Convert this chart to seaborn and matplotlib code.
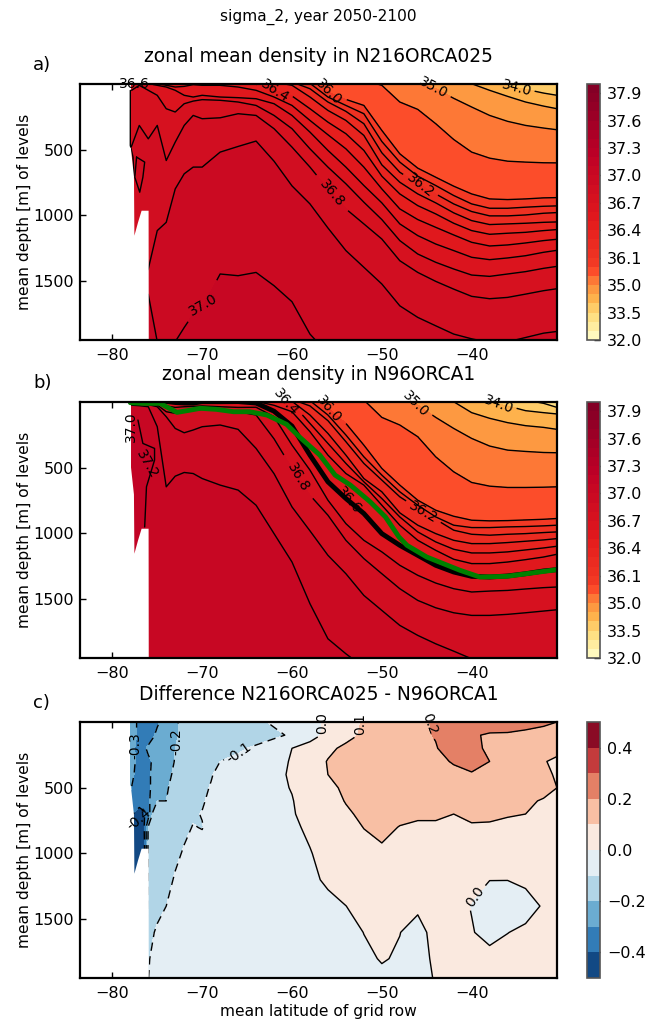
import numpy as np
import matplotlib
matplotlib.use("Agg")
import matplotlib.pyplot as plt
from matplotlib.colors import Normalize
import seaborn as sns

sns.set_style("ticks")
plt.rcParams["font.family"] = ["DejaVu Sans"]
plt.rcParams.update({"text.color": "k", "axes.labelcolor": "k", "axes.edgecolor": "k",
                     "xtick.color": "k", "ytick.color": "k"})

# colour levels of the density panels
levels_rho = [32, 32.5, 33, 33.5, 34, 34.5, 35, 35.5, 36, 36.1, 36.2, 36.3, 36.4, 36.5, 36.6,
              36.7, 36.8, 36.9, 37.0, 37.1, 37.2, 37.3, 37.4, 37.5, 37.6, 37.7, 37.8, 37.9, 38.0]
labelled_rho = [34.0, 35.0, 36.0, 36.2, 36.4, 36.6, 36.8, 37.0]
ticks_rho = [32.0, 33.5, 35.0, 36.1, 36.4, 36.7, 37.0, 37.3, 37.6, 37.9]
ticklabels_rho = ["32.0", "33.5", "35.0", "36.1", "36.4", "36.7", "37.0", "37.3", "37.6", "37.9"]
levels_diff = [-0.5, -0.4, -0.3, -0.2, -0.1, 0.0, 0.1, 0.2, 0.3, 0.4, 0.5]
ticks_diff = [-0.4, -0.2, 0.0, 0.2, 0.4]
ticklabels_diff = ["\u22120.4", "\u22120.2", "0.0", "0.2", "0.4"]

# latitude columns of the isopycnal tables
lat_rho = [-77.9, -77, -76, -75, -74, -73, -72, -71, -70, -68, -66, -64, -62, -60, -58, -56,
           -54, -52, -50, -48, -46, -44, -42, -40, -38, -36, -34, -32, -30.5]

# density of each table row
rho_rows = [33.0, 33.5, 34.0, 34.5, 35.0, 35.5, 36.0, 36.1, 36.2, 36.3, 36.4, 36.5, 36.6,
            36.7, 36.8, 36.9, 37.0, 37.09]

# panel a: depth [m] of each isopycnal (negative = outcropped above the surface)
a_330 = [-900] * 29
a_335 = [-180] * 29
a_340 = [-160] * 24 + [-30, 15, 40, 69, 86]
a_345 = [-140] * 22 + [-60, -2, 48, 94, 137, 168, 188]
a_350 = [-120] * 20 + [-8, 36, 109, 175, 239, 284, 315, 335, 348]
a_355 = [-100] * 17 + [-30, 10, 137, 193, 302, 422, 518, 564, 587, 594, 599, 600]
a_360 = [-80] * 13 + [-60, -25, 61, 117, 163, 353, 531, 640, 709, 777, 836, 874, 879, 874, 866, 864]
a_361 = [-60] * 13 + [-40, -5, 99, 163, 226, 437, 594, 701, 772, 848, 912, 945, 945, 937, 930, 927]
a_362 = [-45] * 13 + [-15, 36, 137, 208, 302, 523, 671, 759, 836, 912, 970, 1003, 1003, 996, 983, 978]
a_363 = [-30] * 12 + [-15, 10, 99, 201, 277, 391, 615, 747, 836, 904, 980, 1039, 1069, 1064, 1059, 1052, 1049]
a_364 = [-20] * 11 + [2, 48, 91, 188, 290, 378, 505, 701, 836, 925, 988, 1059, 1115, 1143, 1135, 1128, 1115, 1107]
a_365 = [-10, -10, -10, -5, 10, 23, 18, 5, 10, 10, 23, 48, 99, 163, 277, 386, 493, 632, 798, 950,
         1031, 1090, 1148, 1204, 1232, 1224, 1209, 1191, 1181]
a_366 = [5, -5, -3, 10, 23, 48, 86, 99, 86, 99, 104, 112, 150, 239, 366, 505, 632, 772, 904, 1064,
         1153, 1217, 1267, 1318, 1336, 1323, 1306, 1280, 1265]
a_367 = [50, 10, 48, 86, 188, 213, 150, 130, 119, 124, 137, 163, 239, 340, 493, 632, 759, 899, 1031,
         1191, 1293, 1356, 1407, 1453, 1463, 1445, 1427, 1402, 1387]
a_368 = [480, 315, 417, 315, 582, 442, 315, 239, 264, 257, 226, 239, 340, 480, 632, 798, 950, 1064,
         1179, 1344, 1433, 1501, 1560, 1615, 1633, 1623, 1598, 1572, 1557]
a_369 = [1500, 1500, 1407, 1115, 1052, 798, 683, 632, 632, 518, 475, 434, 587, 775, 912, 1095, 1267,
         1394, 1521, 1687, 1775, 1839, 1902, 1938, 1966, 1961, 1928, 1895, 1882]
a_370 = [1600, 1600, 1600, 1960, 1980, 1960, 1852, 1750, 1700, 1445, 1458, 1433, 1534, 1656, 1902,
         2050, 2080, 2100, 2100, 2100, 2100, 2100, 2100, 2100, 2100, 2100, 2100, 2100, 2100]
a_373 = [2500] * 29

# panel b: same table for the second run
b_330 = [-900] * 29
b_335 = [-120] * 25 + [-60, -15, 10, 41]
b_340 = [-100] * 23 + [-20, 5, 30, 66, 81, 91]
b_345 = [-90] * 21 + [-40, -2, 81, 124, 157, 180, 193, 208]
b_350 = [-80] * 19 + [-20, 23, 117, 201, 277, 335, 366, 376, 384, 386]
b_355 = [-70] * 17 + [-15, 117, 175, 264, 417, 531, 612, 640, 650, 650, 648, 645]
b_360 = [-60] * 13 + [-55, -20, 48, 163, 328, 505, 632, 747, 823, 869, 899, 904, 902, 897, 892, 886]
b_361 = [-50] * 13 + [-40, -10, 99, 251, 417, 556, 683, 785, 874, 937, 955, 955, 950, 947, 942, 937]
b_362 = [-40] * 13 + [-20, 30, 142, 302, 467, 594, 721, 810, 892, 975, 1006, 1013, 1006, 1001, 993, 988]
b_363 = [-30] * 13 + [-5, 99, 239, 404, 582, 683, 843, 937, 1001, 1052, 1077, 1077, 1069, 1059, 1049, 1039]
b_364 = [-20] * 12 + [-8, 10, 163, 315, 467, 607, 734, 874, 988, 1064, 1120, 1148, 1148, 1140, 1125, 1110, 1097]
b_365 = [-10] * 11 + [-5, 25, 74, 226, 404, 544, 632, 785, 937, 1052, 1128, 1196, 1229, 1229, 1217, 1199, 1179, 1158]
b_366 = [-5, -5, -5, -5, -4, 4, 8, 8, -2, -2, -3, 8, 70, 183, 404, 607, 734, 848, 1001, 1090, 1166,
         1242, 1293, 1326, 1331, 1323, 1306, 1285, 1275]
b_367 = [5, 6, 8, 10, 30, 41, 36, 33, 30, 36, 41, 40, 112, 328, 518, 747, 925, 1052, 1140, 1242, 1318,
         1377, 1420, 1445, 1438, 1433, 1422, 1412, 1407]
b_368 = [8, 10, 13, 23, 74, 86, 74, 65, 56, 61, 74, 99, 280, 505, 709, 861, 1052, 1191, 1306, 1420,
         1509, 1565, 1603, 1623, 1623, 1615, 1603, 1590, 1580]
b_369 = [10, 12, 20, 36, 112, 201, 234, 213, 188, 175, 208, 353, 545, 798, 980, 1166, 1306, 1471, 1585,
         1699, 1775, 1839, 1895, 1953, 2017, 2030, 2030, 2030, 2030]
b_370 = [24, 28, 36, 188, 645, 564, 536, 544, 582, 632, 670, 785, 1001, 1217, 1534, 1801, 1915, 2017,
         2060, 2100, 2100, 2100, 2100, 2100, 2100, 2100, 2100, 2100, 2100]
b_373 = [2500] * 29

# green isopycnal drawn over panel b
green_lat = [-78, -76.6, -74.7, -72.8, -71.7, -70.2, -68.4, -66.5, -64.7, -62.8, -60.6, -59.1, -56.9,
             -55.2, -53.5, -51.3, -49.6, -48.1, -47.2, -45, -41.3, -39.1, -36.1, -30.5]
green_depth = [5, 10, 10, 79, 66, 48, 56, 74, 74, 99, 170, 270, 404, 556, 632, 759, 874, 1026, 1090,
               1179, 1280, 1331, 1326, 1275]

# shelf features that a table with one depth per latitude cannot hold
blob_a_lat = [-77.3, -76.4, -76.6, -76.95, -77.5, -77.3]
blob_a_depth = [556, 594, 709, 823, 709, 556]
edge_a_lat = [-78, -78, -77.7, -77.6]
edge_a_depth = [48, 467, 556, 696]
lens_b_lat = [-77.15, -76.6, -75.3, -75.3, -76.2, -76.4, -76.4, -77.5, -77.8, -77.89]
lens_b_depth = [137, 315, 353, 442, 645, 950, 1020, 1153, 700, 239]

# bathymetry: white below this depth
land_lat = [-78.2, -78, -77.65, -77.6, -77.2, -76.8, -76.2, -76.02, -76.0, -30]
land_depth = [480, 480, 700, 1150, 1050, 960, 960, 960, 2100, 2100]

# panel c: difference on a regular grid
lat_diff = [-78, -77.5, -77, -76.5, -76, -75.5, -75, -74, -73, -72, -71, -70, -69, -68, -66, -64, -62,
            -60, -58, -56, -54, -52, -50, -48, -46, -44, -42, -40, -38, -36, -34, -32, -30.5]
depth_diff = [0, 100, 200, 300, 400, 500, 600, 700, 800, 1000, 1200, 1400, 1600, 1800, 1950]
diff_0 = [-.25, -.28, -.33, -.33, -.33, -.32, -.31, -.27, -.21, -.18, -.17, -.16, -.15, -.14, -.13, -.115, -.09,
          -.06, -.02, .01, .05, .11, .13, .15, .18, .21, .24, .25, .25, .24, .23, .21, .2]
diff_100 = [-.25, -.28, -.33, -.34, -.33, -.31, -.285, -.24, -.205, -.19, -.18, -.17, -.16, -.15, -.14, -.13, -.115,
            -.09, -.03, .02, .07, .115, .13, .15, .18, .205, .23, .21, .19, .19, .18, .18, .18]
diff_200 = [-.24, -.3, -.33, -.31, -.29, -.27, -.25, -.22, -.2, -.18, -.17, -.16, -.14, -.13, -.11, -.09, -.06,
            -.0, .03, .08, .12, .14, .15, .16, .17, .195, .24, .23, .18, .16, .15, .14, .15]
diff_300 = [-.25, -.295, -.33, -.33, -.31, -.295, -.27, -.24, -.195, -.17, -.16, -.14, -.12, -.1, -.085, -.07, -.04,
            .01, .05, .105, .13, .14, .14, .15, .16, .17, .21, .24, .2, .15, .13, .11, .07]
diff_400 = [-.25, -.31, -.34, -.34, -.31, -.29, -.27, -.23, -.18, -.16, -.14, -.12, -.105, -.08, -.06, -.04, -.02,
            .01, .04, .1, .13, .14, .15, .16, .16, .16, .17, .19, .18, .15, .13, .12, .09]
diff_500 = [-.29, -.33, -.35, -.35, -.31, -.29, -.26, -.21, -.17, -.15, -.13, -.115, -.095, -.07, -.05, -.03, -.015,
            .003, .04, .08, .115, .13, .14, .15, .15, .15, .15, .15, .14, .13, .125, .12, .1]
diff_600 = [-.32, -.36, -.38, -.37, -.32, -.26, -.2, -.2, -.16, -.14, -.125, -.105, -.09, -.07, -.05, -.03, -.015,
            -.003, .03, .06, .105, .125, .13, .125, .12, .13, .13, .13, .125, .12, .11, .095, .08]
diff_700 = [-.38, -.41, -.42, -.41, -.36, -.19, -.175, -.16, -.14, -.12, -.105, -.098, -.09, -.07, -.05, -.03, -.015,
            -.005, .02, .05, .085, .12, .125, .115, .11, .11, .1, .11, .115, .105, .1, .09, .08]
diff_800 = [-.42, -.45, -.46, -.42, -.19, -.17, -.16, -.14, -.125, -.11, -.098, -.102, -.085, -.07, -.05, -.03, -.02,
            -.01, .01, .04, .07, .102, .115, .098, .09, .09, .09, .095, .09, .085, .08, .07, .06]
diff_1000 = [-.45, -.46, -.46, -.45, -.18, -.16, -.15, -.13, -.11, -.095, -.085, -.08, -.07, -.06, -.05, -.035, -.025,
             -.015, -.003, .02, .05, .07, .09, .07, .06, .06, .06, .06, .06, .06, .05, .05, .05]
diff_1200 = [-.45, -.45, -.45, -.45, -.16, -.15, -.13, -.115, -.095, -.085, -.08, -.075, -.07, -.06, -.05, -.04, -.03,
             -.02, -.008, .006, .03, .05, .05, .04, .04, .03, .02, .01, .001, .001, .01, .02, .03]
diff_1400 = [-.45, -.45, -.45, -.45, -.14, -.13, -.12, -.1, -.09, -.08, -.07, -.06, -.055, -.05, -.045, -.04, -.035,
             -.03, -.02, -.01, -.0005, .02, .03, .02, .005, .02, .015, -.002, -.03, -.04, -.02, .005, .015]
diff_1600 = [-.45, -.45, -.45, -.45, -.12, -.105, -.09, -.08, -.07, -.06, -.055, -.05, -.045, -.04, -.035, -.03, -.03,
             -.03, -.025, -.02, -.012, .0005, .015, .0005, -.01, .01, .01, .003, -.015, -.001, .01, .02, .025]
diff_1800 = [-.45, -.45, -.45, -.45, -.105, -.09, -.08, -.07, -.06, -.055, -.05, -.045, -.04, -.035, -.03, -.025, -.025,
             -.02, -.02, -.015, -.01, -.006, .002, -.003, -.01, .005, .02, .02, .015, .02, .02, .025, .03]
diff_1950 = [-.45, -.45, -.45, -.45, -.101, -.085, -.07, -.06, -.055, -.05, -.045, -.04, -.035, -.03, -.025, -.022, -.02,
             -.018, -.016, -.014, -.012, -.01, -.006, -.006, -.005, .001, .02, .025, .025, .025, .025, .03, .03]

# contour labels (lat, depth) and their angle
labels_a = [(-77.5, 10), (-61.9, 48), (-55.9, 74), (-44.3, 36), (-35, 23), (-45.7, 772), (-55.6, 848), (-69.5, 1725)]
angles_a = [0, -33, -45, -28, -15, -38, -50, 30]
labels_b = [(-60.7, 25), (-55.9, 74), (-46.3, 23), (-37, 10), (-45.4, 848), (-59.3, 569), (-53.7, 747)]
angles_b = [-50, -50, -45, -20, -30, -60, -50]
labels_c = [(-77.6, 180), (-72.8, 150), (-66.1, 200), (-56.4, 10), (-52.6, 10), (-45, 20), (-40, 1300)]
angles_c = [90, 90, 35, 90, 90, -70, 55]


def put_labels(ax, cs, spots, angles):
    texts = ax.clabel(cs, fmt="%.1f", fontsize=10, inline=True, manual=spots)
    for t, a in zip(texts, angles):
        t.set_transform_rotates_text(False)
        t.set_rotation(a)
        t.set_clip_on(False)
        t.set_zorder(7)


def finish(ax, cax, cb, title):
    ax.fill_between(land_lat, land_depth, 2200, color="white", lw=0, zorder=3)
    ax.set_xlim(-83.6, -30.5)
    ax.set_ylim(1947, 0)
    ax.set_xticks([-80, -70, -60, -50, -40])
    ax.set_yticks([500, 1000, 1500])
    ax.set_ylabel("mean depth [m] of levels", fontsize=11.2, labelpad=1)
    ax.set_title(title, fontsize=13.4, pad=16)
    ax.tick_params(direction="in", top=True, right=True, length=4, width=1, labelsize=11.5)
    ax.tick_params(axis="x", pad=6)
    ax.tick_params(axis="y", pad=4.5)
    for s in ax.spines.values():
        s.set_linewidth(1.6)
        s.set_zorder(6)
    cb.outline.set_edgecolor("#555555")
    cb.outline.set_linewidth(1.2)
    cax.minorticks_off()
    cax.tick_params(direction="in", length=4, width=1, labelsize=11.5, pad=5, right=True, left=False)


def rho_panel(ax, cax, rows, title, spots, angles):
    lat = np.array(lat_rho, dtype=float)
    depth = np.array(rows, dtype=float)
    x = np.tile(lat, (len(rho_rows), 1))
    z = np.tile(np.array(rho_rows)[:, None], (1, len(lat)))
    cmap = sns.color_palette("YlOrRd", as_cmap=True)
    cf = ax.contourf(x, depth, z, levels=levels_rho, cmap=cmap, norm=norm_rho)
    plain = [v for v in levels_rho if v not in labelled_rho]
    ax.contour(x, depth, z, levels=plain, colors="k", linewidths=1.0)
    cs = ax.contour(x, depth, z, levels=labelled_rho, colors="k", linewidths=1.0)
    put_labels(ax, cs, spots, angles)
    cb = plt.colorbar(cf, cax=cax, ticks=ticks_rho)
    cb.set_ticklabels(ticklabels_rho)
    finish(ax, cax, cb, title)
    return x, depth, z, cmap


fig = plt.figure(figsize=(6.45, 10.21), dpi=100)
norm_rho = Normalize(32, 38)


def add_axes(x0, y0, x1, y1):
    return fig.add_axes([x0 / 645, 1 - y1 / 1021, (x1 - x0) / 645, (y1 - y0) / 1021])


ax_a = add_axes(80, 84, 557, 340)
ax_b = add_axes(80, 402, 557, 658)
ax_c = add_axes(80, 722, 557, 978)
cax_a = add_axes(587, 84, 600, 340)
cax_b = add_axes(587, 402, 600, 658)
cax_c = add_axes(587, 722, 600, 978)

rows_a = [a_330, a_335, a_340, a_345, a_350, a_355, a_360, a_361, a_362, a_363, a_364, a_365, a_366,
          a_367, a_368, a_369, a_370, a_373]
rows_b = [b_330, b_335, b_340, b_345, b_350, b_355, b_360, b_361, b_362, b_363, b_364, b_365, b_366,
          b_367, b_368, b_369, b_370, b_373]

rho_panel(ax_a, cax_a, rows_a, "zonal mean density in N216ORCA025", labels_a, angles_a)
ax_a.plot(blob_a_lat, blob_a_depth, color="k", lw=1.0, zorder=2.5)
ax_a.plot(edge_a_lat, edge_a_depth, color="k", lw=1.0, zorder=2.5)

x_b, y_b, z_b, cmap_b = rho_panel(ax_b, cax_b, rows_b, "zonal mean density in N96ORCA1", labels_b, angles_b)
ax_b.fill(lens_b_lat, lens_b_depth, color=cmap_b(norm_rho(37.15)), lw=0, zorder=1.5)
ax_b.plot(lens_b_lat[:6], lens_b_depth[:6], color="k", lw=1.0, zorder=2.5)
ax_b.contour(x_b, y_b, z_b, levels=[36.6], colors="k", linewidths=3.5, zorder=3.5)
sns.lineplot(x=green_lat, y=green_depth, color="green", lw=3.5, sort=False, estimator=None, ax=ax_b, zorder=4)
ax_b.text(-77.9, 190, "37.0", rotation=90, fontsize=10, ha="center", va="center", zorder=5)
ax_b.text(-76.1, 470, "37.2", rotation=-60, fontsize=10, ha="center", va="center", zorder=5)

# difference panel, negative levels dashed
z_diff = np.array([diff_0, diff_100, diff_200, diff_300, diff_400, diff_500, diff_600, diff_700,
                   diff_800, diff_1000, diff_1200, diff_1400, diff_1600, diff_1800, diff_1950])
cmap_diff = sns.color_palette("RdBu_r", as_cmap=True)
styles_diff = [(0, (6, 4)) if v < -0.01 else "solid" for v in levels_diff]
cf_c = ax_c.contourf(lat_diff, depth_diff, z_diff, levels=levels_diff, cmap=cmap_diff, norm=Normalize(-0.5, 0.5))
cs_c = ax_c.contour(lat_diff, depth_diff, z_diff, levels=levels_diff, colors="k", linewidths=1.0,
                    linestyles=styles_diff)
put_labels(ax_c, cs_c, labels_c, angles_c)
cb_c = plt.colorbar(cf_c, cax=cax_c, ticks=ticks_diff)
cb_c.set_ticklabels(ticklabels_diff)
finish(ax_c, cax_c, cb_c, "Difference N216ORCA025 - N96ORCA1")
ax_c.text(-77, 740, "-0.4", fontsize=10, rotation=40, ha="center", va="center", zorder=5)
ax_c.set_xlabel("mean latitude of grid row", fontsize=11.2, labelpad=2)

fig.text(318 / 645, 1 - 17 / 1021, "sigma_2, year 2050-2100", ha="center", va="center", fontsize=11.1)
fig.text(33 / 645, 1 - 65 / 1021, "a)", ha="left", va="center", fontsize=13)
fig.text(33 / 645, 1 - 383 / 1021, "b)", ha="left", va="center", fontsize=13)
fig.text(33 / 645, 1 - 703 / 1021, "c)", ha="left", va="center", fontsize=13)

fig.savefig("out.png", dpi=100)
